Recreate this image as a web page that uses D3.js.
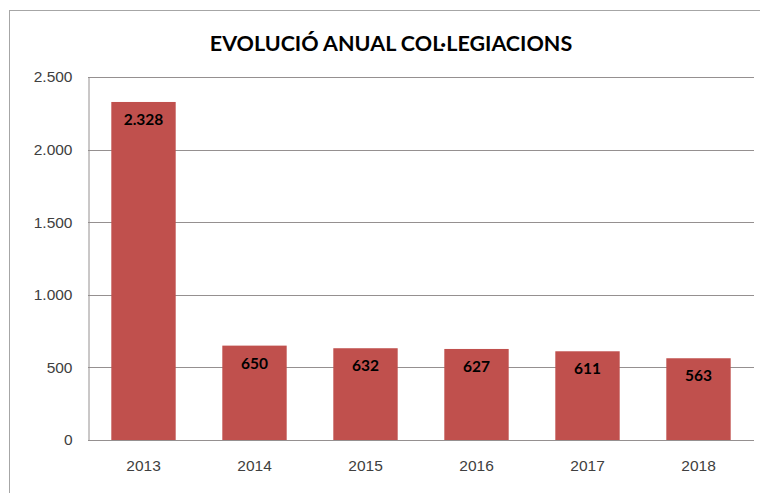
<!DOCTYPE html>
<html>
<head>
<meta charset="utf-8">
<script src="https://cdn.jsdelivr.net/npm/d3@7"></script>
<style>
  body { margin: 0; background: #fff; }
  svg { display: block; font-family: Lato, "Open Sans", sans-serif; }
</style>
</head>
<body>
<svg></svg>
<script>
let years = ["2013", "2014", "2015", "2016", "2017", "2018"]
let values = [2328, 650, 632, 627, 611, 563]
let yTicks = [0, 500, 1000, 1500, 2000, 2500]
let title = "EVOLUCIÓ ANUAL COL·LEGIACIONS"

let width = 760
let height = 493
let plotLeft = 88, plotRight = 754, plotTop = 77, plotBottom = 440

let svg = d3.select("svg").attr("width", width).attr("height", height)

// outer chart frame
svg.append("rect")
    .attr("x", 9.5).attr("y", 10.5)
    .attr("width", width).attr("height", height)
    .attr("fill", "none")
    .attr("stroke", "#a6a6a6")

let xScale = d3.scaleBand()
    .domain(years)
    .range([plotLeft, plotRight])
    .paddingInner(0.42)
    .paddingOuter(0.21)

let yScale = d3.scaleLinear()
    .domain([0, 2500])
    .range([plotBottom, plotTop])

let fmt = (v) => d3.format(",")(v).replace(/,/g, ".")

// gridlines
svg.append("g")
    .selectAll("line")
    .data(yTicks)
    .enter()
    .append("line")
    .attr("x1", plotLeft).attr("x2", plotRight)
    .attr("y1", (d) => Math.round(yScale(d)) + 0.5)
    .attr("y2", (d) => Math.round(yScale(d)) + 0.5)
    .attr("stroke", "#959090")

let yAxis = d3.axisLeft(yScale).tickValues(yTicks).tickFormat(fmt).tickSize(0).tickPadding(16)
svg.append("g")
    .attr("transform", "translate(" + (plotLeft + 0.5) + ",0)")
    .call(yAxis)
    .call(g => g.select(".domain").attr("stroke", "#959090"))
    .selectAll("text")
    .attr("fill", "#404040")
    .style("font-size", "15.5px")

let xAxis = d3.axisBottom(xScale).tickSize(0).tickPadding(20)
svg.append("g")
    .attr("transform", "translate(0," + plotBottom + ")")
    .call(xAxis)
    .call(g => g.select(".domain").remove())
    .selectAll("text")
    .attr("fill", "#404040")
    .style("font-size", "15.5px")

svg.selectAll(".bar")
    .data(values)
    .enter()
    .append("rect")
    .attr("class", "bar")
    .attr("x", (d, i) => xScale(years[i]))
    .attr("y", (d) => yScale(d))
    .attr("width", xScale.bandwidth())
    .attr("height", (d) => plotBottom - yScale(d))
    .attr("fill", "#c0504d")

svg.selectAll(".label")
    .data(values)
    .enter()
    .append("text")
    .attr("class", "label")
    .attr("x", (d, i) => xScale(years[i]) + xScale.bandwidth() / 2)
    .attr("y", (d) => yScale(d) + 23)
    .attr("text-anchor", "middle")
    .style("font-size", "15.5px")
    .style("font-weight", "bold")
    .attr("fill", "#000")
    .text(fmt)

svg.append("text")
    .attr("x", 391)
    .attr("y", 51)
    .attr("text-anchor", "middle")
    .style("font-size", "21.5px")
    .style("font-weight", "bold")
    .attr("fill", "#000")
    .text(title)
</script>
</body>
</html>
